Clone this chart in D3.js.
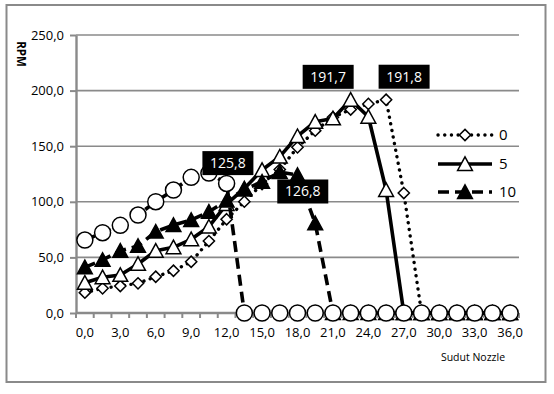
<!DOCTYPE html>
<html>
<head>
<meta charset="utf-8">
<script src="https://cdn.jsdelivr.net/npm/d3@7"></script>
<style>
  html, body { margin: 0; padding: 0; background: #fff; }
  svg { display: block; }
  text { font-family: "Open Sans", "Liberation Sans", sans-serif; }
</style>
</head>
<body>
<svg id="chart" width="554" height="394"></svg>
<script>
// ---- data ----
const categories = ["0,0","1,5","3,0","4,5","6,0","7,5","9,0","10,5","12,0","13,5","15,0","16,5","18,0",
                    "19,5","21,0","22,5","24,0","25,5","27,0","28,5","30,0","31,5","33,0","34,5","36,0"];
const sudut0  = [18.3,22.2,24.3,26.7,32.6,38.0,46.1,64.7,84.3,100.1,116.0,129.0,149.0,164.0,176.0,183.0,188.0,191.8,107.9,0,0,0,0,0,0];
const sudut5  = [27.2,32.1,34.2,44.1,56.0,59.1,66.3,77.6,98.0,112.0,128.6,140.6,159.0,172.0,175.0,191.7,176.5,110.6,0,0,0,0,0,0,0];
const sudut10 = [41.1,47.7,56.0,60.3,73.1,79.1,83.6,91.0,101.0,111.0,118.0,126.8,124.0,80.7,0,0,0,0,0,0,0,0,0,0,0];
const sudut15 = [65.6,72.2,78.8,88.1,100.1,110.6,122.0,125.8,116.5,0,0,0,0,0,0,0,0,0,0,0,0,0,0,0,0];
const legendNames = ["0","5","10"];
const yTicks = [0,50,100,150,200,250];
const xTitle = "Sudut Nozzle";
const yTitle = "RPM";

// ---- layout ----
const svg = d3.select("#chart");
const L = 76, R = 519, T = 35, B = 313;
const x = d3.scaleBand().domain(categories).range([L, R]).padding(0);
const y = d3.scaleLinear().domain([0, 250]).range([B, T]);
const cx = c => x(c) + x.bandwidth() / 2;
const fmt = v => d3.format(".1f")(v).replace(".", ",");
const grey = "#8a8a8a";

// frame
svg.append("rect").attr("x", 6.5).attr("y", 5).attr("width", 539).attr("height", 377)
  .attr("fill", "#fff").attr("stroke", grey).attr("stroke-width", 2);

// gridlines
svg.append("g").selectAll("line").data(yTicks.filter(v => v > 0)).join("line")
  .attr("x1", L).attr("x2", R).attr("y1", d => y(d)).attr("y2", d => y(d))
  .attr("stroke", grey).attr("stroke-width", 1.6);

// y axis
const ya = svg.append("g").attr("transform", `translate(${L},0)`)
  .call(d3.axisLeft(y).tickValues(yTicks).tickSize(6).tickSizeOuter(0).tickPadding(6).tickFormat(fmt));
ya.select(".domain").attr("stroke", grey).attr("stroke-width", 2.4);
ya.selectAll(".tick line").attr("stroke", grey).attr("stroke-width", 2);
ya.selectAll(".tick text").attr("font-size", 13).attr("fill", "#000")
  .style("font-family", '"Open Sans", sans-serif');

// x axis
const xa = svg.append("g").attr("transform", `translate(0,${B})`)
  .call(d3.axisBottom(x).tickSize(0).tickPadding(15).tickFormat((d, i) => i % 2 === 0 ? d : ""));
xa.select(".domain").remove();
xa.selectAll(".tick text").attr("font-size", 13).attr("fill", "#000")
  .style("font-family", '"Open Sans", sans-serif');
svg.append("line").attr("x1", L).attr("x2", R).attr("y1", B).attr("y2", B)
  .attr("stroke", grey).attr("stroke-width", 2.4);
const bounds = categories.map(c => x(c)).concat([x.range()[1]]);
svg.append("g").selectAll("line").data(bounds).join("line")
  .attr("x1", d => d).attr("x2", d => d).attr("y1", B).attr("y2", B + 5)
  .attr("stroke", grey).attr("stroke-width", 2);

// titles
svg.append("text").attr("x", 473).attr("y", 361).attr("text-anchor", "middle")
  .attr("font-size", 10.5).attr("fill", "#000").text(xTitle);
svg.append("text").attr("transform", "translate(17,54) rotate(90)").attr("text-anchor", "middle")
  .attr("font-size", 11.5).attr("font-weight", "bold").attr("fill", "#000").text(yTitle);

// marker shapes
const shapes = {
  diamond: "M0,-5.6L5.6,0L0,5.6L-5.6,0Z",
  triangle: "M0,-7.2L7.4,6.4L-7.4,6.4Z",
  circle: d3.symbol().type(d3.symbolCircle).size(Math.PI * 64)()
};

const series = [
  { name: legendNames[0], values: sudut0, dash: "0.1 6.6", cap: "round", width: 3.4, shape: "diamond", fill: "#fff", legend: true },
  { name: legendNames[1], values: sudut5, dash: null, cap: "butt", width: 3.6, shape: "triangle", fill: "#fff", legend: true },
  { name: legendNames[2], values: sudut10, dash: "11 6", cap: "butt", width: 3.6, shape: "triangle", fill: "#000", legend: true },
  { name: "15", values: sudut15, dash: "11 6", cap: "butt", width: 3.6, shape: "circle", fill: "#fff", legend: false }
];

const line = d3.line().x((d, i) => cx(categories[i])).y(d => y(d));

series.forEach(s => {
  const g = svg.append("g");
  g.append("path").attr("d", line(s.values)).attr("fill", "none").attr("stroke", "#000")
    .attr("stroke-width", s.width).attr("stroke-dasharray", s.dash).attr("stroke-linecap", s.cap)
    .attr("stroke-linejoin", "round");
  g.selectAll("path.m").data(s.values).join("path").attr("class", "m")
    .attr("d", shapes[s.shape])
    .attr("transform", (d, i) => `translate(${cx(categories[i])},${y(d)})`)
    .attr("fill", s.fill).attr("stroke", "#000").attr("stroke-width", 1.5);
});

// data labels (max of each series)
const labelOffsets = [[18, -23], [-22.5, -23], [23, 19.5], [19, -10]];
series.forEach((s, k) => {
  const m = d3.maxIndex(s.values);
  const px = cx(categories[m]) + labelOffsets[k][0];
  const py = y(s.values[m]) + labelOffsets[k][1];
  svg.append("rect").attr("x", px - 25.5).attr("y", py - 12).attr("width", 51).attr("height", 24).attr("fill", "#000");
  svg.append("text").attr("x", px).attr("y", py).attr("dy", "0.35em").attr("text-anchor", "middle")
    .attr("font-size", 14).attr("fill", "#fff").text(fmt(s.values[m]));
});

// legend
const lg = svg.append("g");
const legendY = [135, 164, 192];
series.filter(s => s.legend).forEach((s, k) => {
  const yy = legendY[k];
  lg.append("line").attr("x1", 438).attr("x2", 492).attr("y1", yy).attr("y2", yy)
    .attr("stroke", "#000").attr("stroke-width", s.width).attr("stroke-dasharray", s.dash)
    .attr("stroke-linecap", s.cap);
  lg.append("path").attr("d", shapes[s.shape]).attr("transform", `translate(465,${yy})`)
    .attr("fill", s.fill).attr("stroke", "#000").attr("stroke-width", 1.5);
  lg.append("text").attr("x", 499).attr("y", yy).attr("dy", "0.35em").attr("font-size", 15)
    .attr("fill", "#000").text(s.name);
});
</script>
</body>
</html>
